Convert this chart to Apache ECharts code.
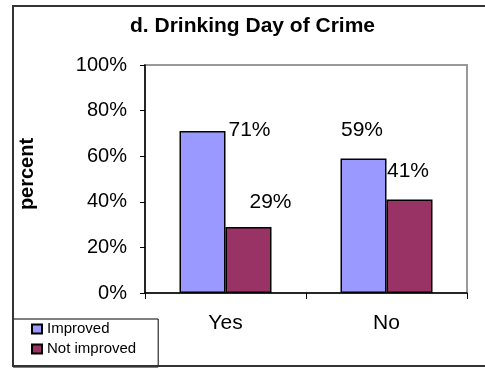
<!DOCTYPE html>
<html><head><meta charset="utf-8">
<script src="https://cdn.jsdelivr.net/npm/echarts@6/dist/echarts.min.js"></script>
<style>html,body{margin:0;padding:0;background:#fff}#c{width:485px;height:368px}</style>
</head><body><div id="c"></div>
<script>
const categories = ['Yes', 'No'];
const improved = [71, 59];
const notImproved = [29, 41];
const yTicks = [0, 20, 40, 60, 80, 100];
const seriesNames = ['Improved', 'Not improved'];
const titleText = 'd. Drinking Day of Crime';
const yName = 'percent';

const F = "'Liberation Sans', Arial, sans-serif";
const impOffsets = [[47, 10], [-1.5, -17.5]];
const notOffsets = [[22, -14], [-1.5, -18]];

const chart = echarts.init(document.getElementById('c'), null, {renderer: 'canvas'});
chart.setOption({
  animation: false,
  backgroundColor: '#fff',
  title: {
    text: titleText, left: 130, top: 16, padding: 0,
    textStyle: {fontFamily: F, fontSize: 21, fontWeight: 'bold', color: '#000'}
  },
  graphic: [{
    type: 'rect', shape: {x: 13, y: 6, width: 500, height: 360},
    style: {fill: 'none', stroke: '#333', lineWidth: 2}, z: 100, silent: true
  }],
  legend: {
    orient: 'vertical', left: 13, top: 319,
    padding: [0, 22, 8, 18], itemGap: 0,
    itemWidth: 10, itemHeight: 9,
    backgroundColor: '#fff', borderColor: '#000', borderWidth: 1,
    icon: 'rect',
    textStyle: {fontFamily: F, fontSize: 15, color: '#000', lineHeight: 20},
    data: seriesNames
  },
  grid: {
    left: 145, right: 18, top: 65, bottom: 75, show: true,
    borderColor: '#999', borderWidth: 2, backgroundColor: '#fff'
  },
  xAxis: {
    type: 'category', data: categories,
    axisLine: {lineStyle: {color: '#000', width: 1.5}},
    axisTick: {show: true, length: 6, lineStyle: {color: '#000'}},
    axisLabel: {fontFamily: F, fontSize: 21, color: '#000', margin: 20}
  },
  yAxis: {
    type: 'value', min: 0, max: 100, interval: 20,
    name: yName, nameLocation: 'middle', nameRotate: 90, nameGap: 108,
    nameTextStyle: {fontFamily: F, fontSize: 20, fontWeight: 'bold', color: '#000',
      padding: [0, 0, 0, 10]},
    axisLine: {show: true, lineStyle: {color: '#000', width: 1.5}},
    axisTick: {show: true, length: 5, lineStyle: {color: '#000'}},
    splitLine: {show: false},
    axisLabel: {
      fontFamily: F, fontSize: 20, color: '#000', margin: 18,
      formatter: v => (yTicks.includes(v) ? v + '%' : '')
    }
  },
  series: [
    {
      name: seriesNames[0], type: 'bar', barWidth: 46, barGap: '0%',
      itemStyle: {color: '#9999FF', borderColor: '#000', borderWidth: 1.5},
      data: improved.map((v, i) => ({value: v, label: {offset: impOffsets[i]}})),
      label: {show: true, position: 'top', distance: 0, formatter: '{c}%',
        fontFamily: F, fontSize: 21, color: '#000'}
    },
    {
      name: seriesNames[1], type: 'bar', barWidth: 46,
      itemStyle: {color: '#993366', borderColor: '#000', borderWidth: 1.5},
      data: notImproved.map((v, i) => ({value: v, label: {offset: notOffsets[i]}})),
      label: {show: true, position: 'top', distance: 0, formatter: '{c}%',
        fontFamily: F, fontSize: 21, color: '#000'}
    }
  ]
});
</script></body></html>
